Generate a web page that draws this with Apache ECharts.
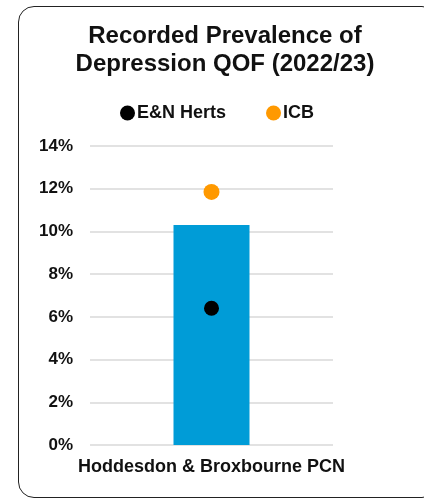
<!DOCTYPE html>
<html>
<head>
<meta charset="utf-8">
<script src="https://cdn.jsdelivr.net/npm/echarts@6/dist/echarts.min.js"></script>
<style>
  html, body { margin: 0; padding: 0; background: #fff; }
  #frame {
    position: absolute; left: 18px; top: 6px; width: 420px; height: 492px;
    border: 1.5px solid #222; border-radius: 16px; box-sizing: border-box;
  }
  #chart { position: absolute; left: 0; top: 0; width: 424px; height: 498px; }
</style>
</head>
<body>
<div id="frame"></div>
<div id="chart"></div>
<script>
// data
const categories = ['Hoddesdon & Broxbourne PCN'];
const pcnValues = [10.3];
const enHertsValues = [6.4];
const icbValues = [11.85];
const yTicks = [0, 2, 4, 6, 8, 10, 12, 14];

const font = '"Liberation Sans", Arial, sans-serif';

const chart = echarts.init(document.getElementById('chart'));

chart.setOption({
  animation: false,
  title: {
    text: 'Recorded Prevalence of\nDepression QOF (2022/23)',
    left: 220,
    textAlign: 'center',
    top: 17,
    textStyle: { fontFamily: font, fontWeight: 'bold', fontSize: 24, lineHeight: 28, color: '#111' }
  },
  legend: {
    data: ['E&N Herts', 'ICB'],
    left: 120,
    top: 104,
    padding: 0,
    icon: 'circle',
    itemWidth: 15,
    itemHeight: 15,
    itemGap: 40,
    textStyle: { fontFamily: font, fontWeight: 'bold', fontSize: 18, color: '#111', padding: [0, 0, 0, -3] }
  },
  grid: { left: 90, right: 91, top: 146, bottom: 53, containLabel: false },
  xAxis: {
    type: 'category',
    data: categories,
    axisLine: { show: false },
    axisTick: { show: false },
    axisLabel: { margin: 13, fontFamily: font, fontWeight: 'bold', fontSize: 18, color: '#111' }
  },
  yAxis: {
    type: 'value',
    min: yTicks[0],
    max: yTicks[yTicks.length - 1],
    interval: 2,
    axisLine: { show: false },
    axisTick: { show: false },
    splitLine: { lineStyle: { color: '#d9d9d9', width: 1.5 } },
    axisLabel: { margin: 17, fontFamily: font, fontWeight: 'bold', fontSize: 17, color: '#111', formatter: '{value}%' }
  },
  series: [
    {
      name: 'PCN',
      type: 'bar',
      data: pcnValues,
      barWidth: 76,
      itemStyle: { color: '#009CD7' },
      z: 1
    },
    {
      name: 'E&N Herts',
      type: 'scatter',
      data: enHertsValues,
      symbolSize: 15,
      itemStyle: { color: '#000', opacity: 1 },
      z: 3
    },
    {
      name: 'ICB',
      type: 'scatter',
      data: icbValues,
      symbolSize: 16,
      itemStyle: { color: '#FF9900', opacity: 1 },
      z: 3
    }
  ]
});
</script>
</body>
</html>
